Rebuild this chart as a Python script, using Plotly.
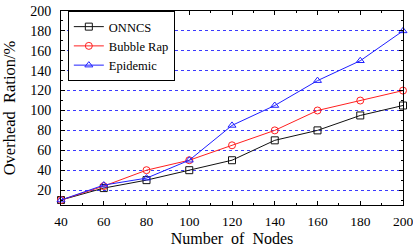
import plotly.graph_objects as go

nodes = [40, 60, 80, 100, 120, 140, 160, 180, 200]
onncs = [10, 22, 30, 40, 50, 70, 80, 95, 105]
bubble_rap = [10, 24, 40, 50, 65, 80, 100, 110, 120]
epidemic = [10, 25, 32, 50, 85, 105, 130, 150, 180]

x_ticks = [40, 60, 80, 100, 120, 140, 160, 180, 200]
y_ticks = [20, 40, 60, 80, 100, 120, 140, 160, 180, 200]

FONT = "Liberation Serif, serif"

fig = go.Figure()
series = [
    ("ONNCS", onncs, "#111111", "square-open"),
    ("Bubble Rap", bubble_rap, "#ff2020", "circle-open"),
    ("Epidemic", epidemic, "#2020ff", "triangle-up-open"),
]
for name, ys, color, sym in series:
    fig.add_trace(go.Scatter(
        x=nodes, y=ys, name=name, mode="lines+markers",
        line=dict(color=color, width=1),
        marker=dict(symbol=sym, size=7, color=color, line=dict(width=1, color=color)),
        cliponaxis=False,
    ))

fig.update_layout(
    width=413, height=249,
    margin=dict(l=61, r=10, t=11, b=44, autoexpand=False),
    paper_bgcolor="white", plot_bgcolor="white",
    font=dict(family=FONT, size=14, color="black"),
    showlegend=True,
    legend=dict(
        x=0.02, y=1.0, xanchor="left", yanchor="top",
        bordercolor="black", borderwidth=1, bgcolor="white",
        font=dict(family=FONT, size=12.5, color="black"),
        tracegroupgap=0, itemwidth=30,
    ),
    xaxis=dict(
        range=[40, 200], tickvals=x_ticks, automargin=False,
        showgrid=False, zeroline=False,
        showline=True, linecolor="black", linewidth=1, mirror="ticks",
        ticks="inside", ticklen=4, tickcolor="black",
        minor=dict(dtick=10, ticks="inside", ticklen=2, tickcolor="black", showgrid=False),
        title=dict(text="Number  of  Nodes", font=dict(family=FONT, size=16), standoff=4),
        tickfont=dict(family=FONT, size=13.5, color="black"),
        ticklabelstandoff=4, ticklabeloverflow="allow",
    ),
    yaxis=dict(
        range=[5, 200], tickvals=y_ticks, automargin=False,
        showgrid=True, gridcolor="#3a3aff", griddash="3px,3px", gridwidth=1,
        zeroline=False,
        showline=True, linecolor="black", linewidth=1, mirror="ticks",
        ticks="inside", ticklen=4, tickcolor="black",
        minor=dict(dtick=10, tick0=0, ticks="inside", ticklen=2, tickcolor="black", showgrid=False),
        title=dict(text="Overhead  Ration/%", font=dict(family=FONT, size=16.5), standoff=12),
        tickfont=dict(family=FONT, size=14, color="black"),
        ticklabelstandoff=6,
    ),
)

fig.write_html("out.html", config={"displayModeBar": False},
               post_script="document.body.style.margin='0';")
